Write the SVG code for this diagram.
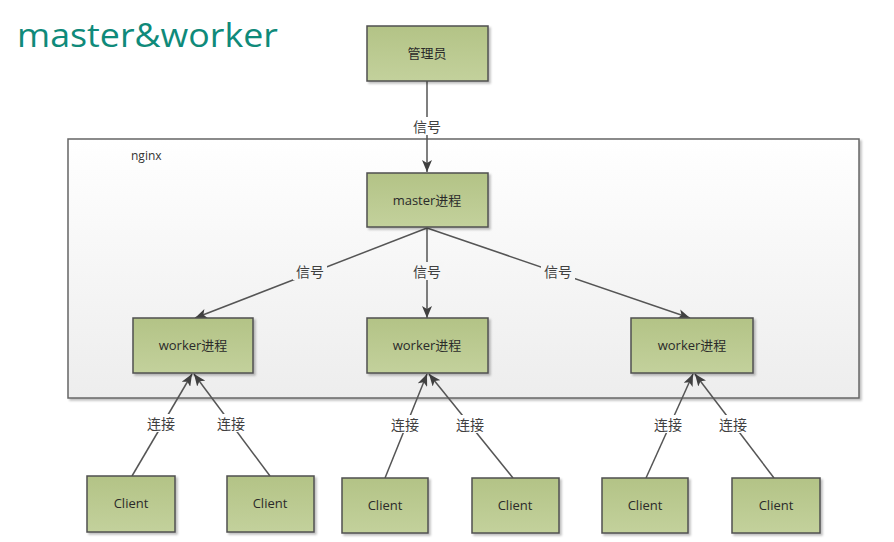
<svg xmlns="http://www.w3.org/2000/svg" width="894" height="542" viewBox="0 0 894 542">
<defs>
<linearGradient id="boxg" x1="0" y1="0" x2="0" y2="1">
<stop offset="0" stop-color="#b3c386"/>
<stop offset="1" stop-color="#c3d19c"/>
</linearGradient>
<linearGradient id="ctg" x1="0" y1="0" x2="0" y2="1">
<stop offset="0" stop-color="#ffffff"/>
<stop offset="1" stop-color="#ededed"/>
</linearGradient>
<marker id="arr" viewBox="0 0 12 10" refX="12" refY="5" markerWidth="12" markerHeight="10" markerUnits="userSpaceOnUse" orient="auto">
<path d="M0,0 L12,5 L0,10 L3,5 Z" fill="#404040"/>
</marker>
<filter id="sh" x="-10%" y="-10%" width="130%" height="130%">
<feDropShadow dx="2" dy="2" stdDeviation="1" flood-color="#000" flood-opacity="0.25"/>
</filter>
</defs>
<style>
.box{fill:url(#boxg);stroke:#505050;stroke-width:1.5;filter:url(#sh)}
.t{font-family:"Open Sans","Noto Sans CJK SC",sans-serif;font-size:13px;fill:#2a2a2a;text-anchor:middle;dominant-baseline:central}
.lbl{font-family:"Noto Sans CJK SC","Noto Sans",sans-serif;font-size:14px;fill:#404040;text-anchor:middle;dominant-baseline:central}
.ln{stroke:#555;stroke-width:1.5;fill:none}
</style>
<rect width="894" height="542" fill="#ffffff"/>
<text x="17" y="47" font-family="'Open Sans',sans-serif" font-size="33" fill="#0f8a7a" textLength="261" lengthAdjust="spacingAndGlyphs">master&amp;worker</text>

<g id="nginx">
<rect x="68" y="139" width="791" height="259" fill="url(#ctg)" stroke="#666" stroke-width="1.5" filter="url(#sh)"/>
<text x="131" y="160" font-family="'Open Sans',sans-serif" font-size="12" fill="#333">nginx</text>
</g>

<g id="connectors">
<line class="ln" x1="427" y1="81" x2="427" y2="172" marker-end="url(#arr)"/>
<rect x="410" y="117" width="34" height="18" fill="#ffffff"/>
<text class="lbl" x="427" y="126">信号</text>

<line class="ln" x1="427" y1="228" x2="195" y2="318" marker-end="url(#arr)"/>
<line class="ln" x1="427" y1="228" x2="427" y2="318" marker-end="url(#arr)"/>
<line class="ln" x1="427" y1="228" x2="690" y2="318" marker-end="url(#arr)"/>
<rect x="293" y="262" width="34" height="18" fill="#f6f6f6"/>
<text class="lbl" x="310" y="271">信号</text>
<rect x="410" y="262" width="34" height="18" fill="#f6f6f6"/>
<text class="lbl" x="427" y="271">信号</text>
<rect x="541" y="262" width="34" height="18" fill="#f6f6f6"/>
<text class="lbl" x="558" y="271">信号</text>

<line class="ln" x1="132" y1="476" x2="192" y2="374" marker-end="url(#arr)"/>
<line class="ln" x1="270" y1="476" x2="194" y2="374" marker-end="url(#arr)"/>
<line class="ln" x1="385" y1="478" x2="427" y2="374" marker-end="url(#arr)"/>
<line class="ln" x1="513" y1="478" x2="429" y2="374" marker-end="url(#arr)"/>
<line class="ln" x1="646" y1="478" x2="693" y2="374" marker-end="url(#arr)"/>
<line class="ln" x1="774" y1="478" x2="695" y2="374" marker-end="url(#arr)"/>
<rect x="144" y="414" width="34" height="18" fill="#ffffff"/>
<text class="lbl" x="161" y="423">连接</text>
<rect x="214" y="414" width="34" height="18" fill="#ffffff"/>
<text class="lbl" x="231" y="423">连接</text>
<rect x="388" y="415" width="34" height="18" fill="#ffffff"/>
<text class="lbl" x="405" y="424">连接</text>
<rect x="453" y="415" width="34" height="18" fill="#ffffff"/>
<text class="lbl" x="470" y="424">连接</text>
<rect x="651" y="415" width="34" height="18" fill="#ffffff"/>
<text class="lbl" x="668" y="424">连接</text>
<rect x="716" y="415" width="34" height="18" fill="#ffffff"/>
<text class="lbl" x="733" y="424">连接</text>
</g>

<g id="admin"><rect class="box" x="367" y="26" width="121" height="55"/><text class="t" x="427" y="53">管理员</text></g>
<g id="master"><rect class="box" x="367" y="173" width="121" height="54"/><text class="t" x="427" y="200">master进程</text></g>
<g id="worker1"><rect class="box" x="133" y="318" width="120" height="55"/><text class="t" x="193" y="345">worker进程</text></g>
<g id="worker2"><rect class="box" x="367" y="318" width="121" height="55"/><text class="t" x="427" y="345">worker进程</text></g>
<g id="worker3"><rect class="box" x="631" y="318" width="122" height="55"/><text class="t" x="692" y="345">worker进程</text></g>
<g id="client1"><rect class="box" x="87" y="476" width="88" height="56"/><text class="t" x="131" y="503">Client</text></g>
<g id="client2"><rect class="box" x="227" y="476" width="87" height="56"/><text class="t" x="270" y="503">Client</text></g>
<g id="client3"><rect class="box" x="342" y="478" width="86" height="55"/><text class="t" x="385" y="505">Client</text></g>
<g id="client4"><rect class="box" x="472" y="478" width="87" height="55"/><text class="t" x="515" y="505">Client</text></g>
<g id="client5"><rect class="box" x="602" y="478" width="86" height="55"/><text class="t" x="645" y="505">Client</text></g>
<g id="client6"><rect class="box" x="732" y="478" width="88" height="55"/><text class="t" x="776" y="505">Client</text></g>
</svg>
